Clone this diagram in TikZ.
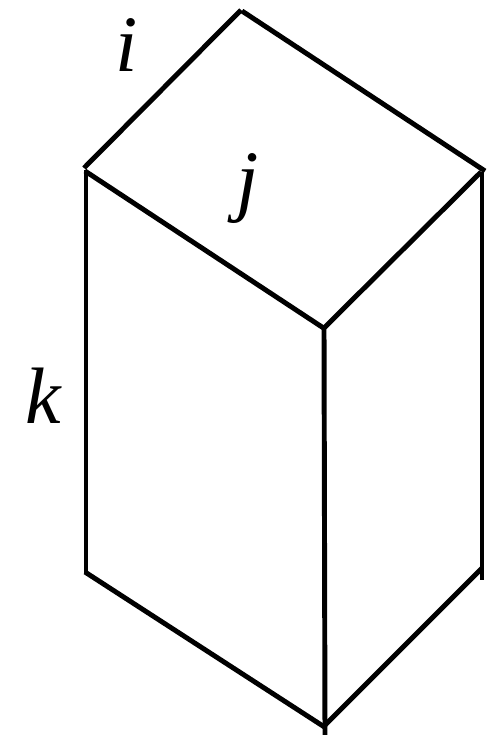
\documentclass[tikz,border=0pt]{standalone}
\usepackage{fontspec}
\setmainfont{Liberation Serif}
\tikzset{edge/.style={line width=3.7pt,black},lab/.style={inner sep=0pt,font=\fontsize{60}{64}\selectfont\itshape}}
\begin{document}
\begin{tikzpicture}[x=0.75pt,y=-0.75pt]
\useasboundingbox (0,0) rectangle (499,735);
\coordinate (t1) at (241,10);
\coordinate (t2) at (242,11);
\coordinate (l1) at (84,168);
\coordinate (l2) at (85,171);
\coordinate (l3) at (86,170);
\coordinate (r1) at (485,171);
\coordinate (r2) at (481,172);
\coordinate (r3) at (482,172);
\coordinate (c1) at (325,329);
\coordinate (c2) at (324,328);
\coordinate (bl) at (86,573);
\coordinate (bl2) at (85,572);
\coordinate (br) at (482,580);
\coordinate (br2) at (482,568);
\coordinate (bc) at (325,735);
\coordinate (bc2) at (325,725);
\coordinate (bc3) at (326,728);
\draw[edge] (t1) -- (l1);
\draw[edge] (t2) -- (r1);
\draw[edge] (l2) -- (c1);
\draw[edge] (r2) -- (c2);
\draw[edge] (l3) -- (bl);
\draw[edge] (r3) -- (br);
\draw[edge] (c2) -- (bc);
\draw[edge] (bl2) -- (bc3);
\draw[edge] (br2) -- (bc2);
\node[lab] (i) at (127,45) {i};
\node[lab] (j) at (248,189) {j};
\node[lab] (k) at (43.5,396) {k};
\end{tikzpicture}
\end{document}
